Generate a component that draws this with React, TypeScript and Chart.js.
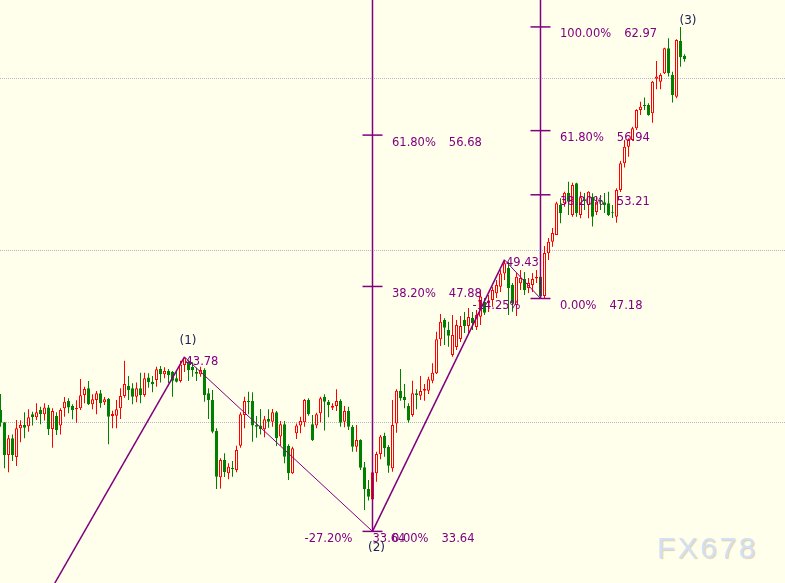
import React, { useEffect, useRef } from "react";
import { Chart, registerables } from "chart.js";

Chart.register(...registerables);

// ---- candle data (index 0..171) ----
const opens = [
  40.70, 39.98, 38.08, 39.05, 37.97, 39.63, 39.83, 39.75, 40.45, 40.27,
  40.70, 40.45, 40.85, 39.59, 40.35, 39.79, 40.80, 41.22, 40.93, 40.74,
  40.80, 41.57, 41.96, 41.03, 41.28, 41.67, 41.15, 41.34, 40.35, 40.37,
  40.80, 41.51, 42.09, 41.96, 41.47, 41.96, 41.57, 42.58, 42.34, 42.44,
  43.08, 42.77, 42.96, 42.92, 42.54, 42.38, 43.31, 43.47, 43.21, 42.92,
  42.77, 43.02, 41.67, 41.28, 39.48, 36.79, 37.79, 37.02, 37.34, 37.21,
  38.62, 40.41, 41.22, 41.22, 39.83, 39.79, 39.58, 40.17, 40.02, 40.56,
  39.15, 39.87, 38.62, 37.02, 39.34, 39.79, 39.98, 41.28, 39.87, 39.79,
  40.51, 41.47, 41.18, 40.83, 40.93, 41.22, 40.02, 40.64, 39.73, 38.56,
  38.95, 37.37, 36.10, 35.49, 37.02, 38.14, 39.19, 38.56, 37.31, 39.92,
  41.82, 41.47, 40.93, 40.41, 41.67, 41.53, 41.82, 41.82, 42.40, 42.83,
  44.81, 45.93, 45.35, 43.90, 44.36, 44.83, 45.93, 45.58, 46.05, 45.52,
  46.12, 46.99, 46.92, 47.09, 47.48, 47.87, 48.64, 48.95, 47.96, 46.80,
  48.06, 48.31, 47.79, 47.96, 48.35, 48.45, 47.33, 49.81, 50.48, 50.87,
  52.62, 52.72, 53.33, 52.03, 53.88, 52.03, 52.95, 52.62, 53.10, 52.21,
  52.91, 52.77, 52.72, 52.17, 51.94, 53.49, 55.04, 56.01, 56.40, 57.08,
  58.14, 58.43, 58.43, 57.95, 59.96, 59.78, 60.27, 61.73, 60.17, 58.91,
  62.15, 61.30,
];
const highs = [
  41.63, 40.00, 39.24, 39.28, 40.12, 40.10, 40.56, 40.74, 40.60, 41.09,
  40.89, 41.09, 40.99, 40.80, 40.56, 40.80, 41.45, 41.38, 41.03, 41.26,
  42.50, 42.05, 42.38, 41.61, 41.80, 41.86, 41.45, 41.40, 40.66, 41.28,
  41.96, 43.56, 42.67, 42.25, 42.29, 42.87, 42.87, 42.83, 42.67, 43.21,
  43.25, 43.18, 43.08, 42.96, 42.96, 43.56, 43.78, 43.56, 43.47, 43.16,
  43.21, 43.12, 41.96, 41.86, 39.63, 37.89, 38.18, 37.60, 37.73, 38.62,
  40.56, 41.47, 41.76, 41.73, 40.35, 40.76, 40.35, 40.74, 40.76, 40.64,
  40.06, 40.06, 38.70, 38.56, 39.92, 40.31, 41.34, 41.38, 40.41, 40.54,
  41.47, 41.61, 41.28, 41.09, 41.90, 41.32, 40.93, 40.89, 39.83, 39.83,
  38.99, 37.67, 36.63, 37.09, 38.27, 39.24, 39.38, 38.66, 41.28, 41.90,
  43.08, 42.21, 41.09, 42.40, 41.90, 42.67, 42.21, 42.63, 43.41, 45.25,
  46.28, 46.03, 45.83, 46.22, 45.93, 46.16, 46.40, 46.63, 46.40, 46.51,
  47.67, 47.21, 47.38, 47.87, 48.25, 48.84, 49.43, 49.32, 48.08, 48.66,
  48.84, 48.72, 48.37, 48.66, 48.84, 48.55, 50.23, 50.70, 51.28, 52.81,
  53.01, 53.39, 53.97, 53.91, 53.91, 53.39, 53.31, 53.42, 53.30, 53.14,
  53.20, 53.31, 53.39, 52.62, 53.59, 55.17, 56.40, 56.49, 57.17, 58.18,
  58.62, 58.86, 58.53, 59.82, 60.99, 60.27, 61.76, 62.31, 60.37, 62.25,
  62.97, 61.38,
];
const lows = [
  39.73, 37.31, 37.08, 37.73, 37.44, 38.82, 39.05, 39.44, 39.79, 40.12,
  39.87, 40.08, 39.24, 38.51, 39.24, 39.28, 40.31, 40.51, 40.16, 39.96,
  40.70, 41.09, 40.99, 40.74, 40.45, 40.83, 40.99, 38.70, 39.63, 39.63,
  40.17, 41.41, 41.28, 41.03, 41.15, 41.09, 41.47, 41.99, 41.73, 42.05,
  42.29, 42.54, 42.25, 41.47, 42.29, 42.29, 42.91, 42.38, 42.63, 42.38,
  42.63, 41.18, 40.17, 39.34, 36.10, 36.14, 36.80, 36.67, 36.82, 37.08,
  38.51, 39.63, 40.45, 38.85, 39.09, 39.28, 39.11, 39.67, 39.73, 38.61,
  38.62, 37.60, 36.63, 36.98, 39.01, 39.34, 39.73, 40.37, 38.90, 39.63,
  39.98, 39.50, 40.27, 40.70, 40.64, 39.73, 39.69, 39.54, 38.27, 38.27,
  37.21, 34.88, 35.43, 35.43, 36.53, 37.83, 37.98, 37.05, 37.11, 39.38,
  41.24, 40.80, 39.96, 40.31, 40.74, 41.28, 41.24, 41.63, 42.25, 42.79,
  44.42, 44.47, 44.38, 43.80, 44.19, 44.65, 45.17, 45.17, 45.35, 45.35,
  45.64, 46.22, 46.40, 46.70, 47.21, 47.56, 48.25, 46.22, 46.41, 46.16,
  47.67, 47.38, 47.50, 47.56, 48.08, 47.18, 47.18, 49.42, 50.19, 50.87,
  51.55, 52.52, 52.03, 51.94, 51.94, 51.84, 52.33, 51.84, 51.36, 52.03,
  52.33, 52.15, 51.98, 51.86, 51.59, 53.37, 54.79, 55.42, 56.35, 56.98,
  57.85, 58.14, 57.80, 57.40, 59.34, 59.34, 60.23, 60.08, 58.57, 58.82,
  60.66, 60.95,
];
const closes = [
  39.96, 38.08, 39.05, 38.08, 39.63, 39.83, 39.67, 40.27, 40.29, 40.56,
  40.47, 40.85, 39.58, 40.64, 39.54, 40.70, 41.18, 40.85, 40.70, 40.81,
  41.55, 41.92, 41.03, 41.32, 41.67, 41.09, 41.32, 40.31, 40.47, 40.74,
  41.51, 42.21, 41.86, 41.47, 41.96, 41.57, 42.54, 42.31, 42.19, 43.06,
  42.77, 42.96, 42.73, 42.40, 42.34, 43.35, 43.74, 43.02, 43.02, 42.81,
  43.02, 41.57, 41.28, 39.44, 36.82, 37.79, 37.09, 37.40, 37.25, 38.37,
  40.45, 41.22, 41.15, 39.79, 39.73, 39.58, 40.16, 40.02, 40.56, 39.05,
  39.87, 37.98, 37.02, 38.47, 39.79, 40.06, 41.28, 40.47, 38.95, 40.45,
  41.38, 41.18, 40.99, 40.95, 41.22, 39.96, 40.64, 39.73, 38.56, 38.95,
  37.34, 36.09, 35.66, 37.08, 38.14, 39.15, 38.47, 37.46, 39.83, 41.82,
  41.38, 41.28, 40.08, 41.67, 41.57, 41.80, 41.92, 42.48, 42.87, 44.81,
  45.83, 45.48, 45.02, 45.06, 45.64, 45.58, 45.58, 46.10, 45.76, 46.22,
  47.29, 46.35, 47.03, 47.67, 47.96, 48.64, 49.23, 47.79, 46.92, 48.45,
  48.37, 47.67, 48.08, 48.31, 48.45, 47.29, 49.83, 50.48, 50.99, 52.72,
  52.13, 53.33, 52.81, 53.78, 52.13, 53.06, 52.85, 53.39, 51.94, 52.81,
  52.81, 52.62, 52.03, 52.13, 53.49, 55.04, 56.01, 56.44, 57.08, 58.14,
  58.33, 58.37, 57.85, 59.78, 60.08, 60.17, 61.73, 60.27, 59.01, 62.21,
  61.20, 61.09,
];

// ---- wave lines (candle index, price) ----
const waveX = [13.5, 46, 93, 126, 135];
const waveY = [30.6, 43.78, 33.64, 49.43, 47.18];

// ---- Fibonacci tools ----
const leftFibIndex = 93;
const leftFibPrices = [33.64, 47.88, 56.68];
const leftFibPcts = ["0.00%", "38.20%", "61.80%"];
const rightFibIndex = 135;
const rightFibPrices = [47.18, 53.21, 56.94, 62.97];
const rightFibPcts = ["0.00%", "38.20%", "61.80%", "100.00%"];

// retracement notes
const retraceTexts = ["-27.20%", "-14.25%"];
const retraceIndex = [93, 135];
const retracePrices = [33.64, 47.18];
const retracePriceText = ["33.64", ""];

// point price notes
const pointTexts = ["43.78", "49.43"];
const pointIndex = [46, 126];
const pointPrices = [43.78, 49.43];

// wave labels
const waveLabels = ["(1)", "(2)", "(3)"];
const waveLabelIndex = [46, 93, 170];
const waveLabelPrices = [43.78, 33.64, 62.97];

// horizontal grid prices
const gridPrices = [40, 50, 60];

// ---- styles ----
const BG = "#FFFFEB";
const RED = "#FF0000";
const GREEN = "#008000";
const PURPLE = "#800080";
const NAVY = "#202058";
const FONT = "11.5px 'DejaVu Sans', Verdana, sans-serif";
const waveLabelOffsets = [
  [3.5, -16],
  [4, 16],
  [7.5, -6],
];
const pointTextOffsets = [
  [1, 5.5],
  [1.5, 3.5],
];

const X_MIN = -0.125;
const X_MAX = 196.125;
const Y_MAX = 64.5349;
const Y_MIN = 30.6395;

const annotPlugin = {
  id: "annot",
  beforeDraw(chart: any) {
    const { ctx, width, height } = chart;
    ctx.save();
    ctx.fillStyle = BG;
    ctx.fillRect(0, 0, width, height);
    ctx.restore();
  },
  beforeDatasetsDraw(chart: any) {
    const { ctx, chartArea } = chart;
    const y = chart.scales.y;
    ctx.save();
    ctx.strokeStyle = "#B4B4C8";
    ctx.lineWidth = 1;
    ctx.setLineDash([1, 1]);
    gridPrices.forEach((p) => {
      const py = Math.round(y.getPixelForValue(p)) + 0.5;
      ctx.beginPath();
      ctx.moveTo(chartArea.left, py);
      ctx.lineTo(chartArea.right, py);
      ctx.stroke();
    });
    ctx.restore();
  },
  afterDatasetsDraw(chart: any) {
    const { ctx, chartArea } = chart;
    const xs = chart.scales.x;
    const ys = chart.scales.y;
    ctx.save();

    const drawFib = (index: number, prices: number[], pcts: string[]) => {
      const lx = xs.getPixelForValue(index);
      const y0 = ys.getPixelForValue(prices[0]);
      ctx.strokeStyle = PURPLE;
      ctx.lineWidth = 1.5;
      ctx.setLineDash([]);
      ctx.beginPath();
      ctx.moveTo(lx, chartArea.top);
      ctx.lineTo(lx, y0);
      ctx.stroke();
      ctx.font = FONT;
      ctx.textBaseline = "middle";
      ctx.textAlign = "left";
      prices.forEach((p, k) => {
        const py = ys.getPixelForValue(p);
        ctx.beginPath();
        ctx.moveTo(lx - 10, py);
        ctx.lineTo(lx + 10, py);
        ctx.stroke();
        ctx.fillStyle = PURPLE;
        const tx = lx + 19.5;
        ctx.fillText(pcts[k], tx, py + 7.5);
        const w = ctx.measureText(pcts[k]).width;
        ctx.fillText(p.toFixed(2), tx + w + 13, py + 7.5);
      });
    };
    drawFib(leftFibIndex, leftFibPrices, leftFibPcts);
    drawFib(rightFibIndex, rightFibPrices, rightFibPcts);

    ctx.font = FONT;
    ctx.fillStyle = PURPLE;
    ctx.textBaseline = "middle";
    retraceTexts.forEach((t, k) => {
      const lx = xs.getPixelForValue(retraceIndex[k]);
      const py = ys.getPixelForValue(retracePrices[k]) + 8;
      ctx.textAlign = "right";
      ctx.fillText(t, lx - 20, py);
      if (retracePriceText[k]) {
        ctx.textAlign = "left";
        ctx.fillText(retracePriceText[k], lx, py);
      }
    });

    ctx.textAlign = "left";
    pointTexts.forEach((t, k) => {
      const px = xs.getPixelForValue(pointIndex[k]);
      const py = ys.getPixelForValue(pointPrices[k]);
      ctx.fillText(t, px + pointTextOffsets[k][0], py + pointTextOffsets[k][1]);
    });

    ctx.font = "12px 'DejaVu Sans', Verdana, sans-serif";
    ctx.fillStyle = NAVY;
    ctx.textAlign = "center";
    waveLabels.forEach((t, k) => {
      const px = xs.getPixelForValue(waveLabelIndex[k]);
      const py = ys.getPixelForValue(waveLabelPrices[k]);
      ctx.fillText(t, px + waveLabelOffsets[k][0], py + waveLabelOffsets[k][1]);
    });

    // watermark
    ctx.font = "30px 'Liberation Sans', Arial, sans-serif";
    (ctx as any).letterSpacing = "2.5px";
    ctx.textAlign = "left";
    ctx.textBaseline = "alphabetic";
    ctx.shadowColor = "rgba(200,170,120,0.55)";
    ctx.shadowOffsetX = 1;
    ctx.shadowOffsetY = 1;
    ctx.shadowBlur = 1;
    ctx.fillStyle = "#D2E0F4";
    ctx.fillText("FX678", 657, 558);
    ctx.restore();
  },
};

export default function App() {
  const ref = useRef<HTMLCanvasElement | null>(null);

  useEffect(() => {
    if (!ref.current) return;
    const idx = opens.map((_, i) => i);
    const isUp = idx.map((i) => closes[i] >= opens[i]);
    const bodies = idx.map((i) => ({ x: i, y: [opens[i], closes[i]] }));
    const wicks = idx.map((i) => ({ x: i, y: [lows[i], highs[i]] }));
    const seg = (a: number, b: number) => [
      { x: waveX[a], y: waveY[a] },
      { x: waveX[b], y: waveY[b] },
    ];
    const lineDs = (data: any[], w: number) => ({
      type: "line",
      data,
      borderColor: PURPLE,
      borderWidth: w,
      pointRadius: 0,
      fill: false,
      tension: 0,
      order: 0,
    });

    const chart = new Chart(ref.current, {
      type: "bar",
      data: {
        datasets: [
          lineDs(seg(0, 1), 1.5),
          lineDs(seg(1, 2), 1),
          lineDs(seg(2, 3), 1.5),
          lineDs(seg(3, 4), 1),
          {
            type: "bar",
            label: "body",
            data: bodies,
            barThickness: 3,
            grouped: false,
            borderSkipped: false,
            borderWidth: 1,
            inflateAmount: 0,
            minBarLength: 1,
            backgroundColor: (c: any) => (isUp[c.dataIndex] ? BG : GREEN),
            borderColor: (c: any) => (isUp[c.dataIndex] ? RED : GREEN),
            order: 1,
          },
          {
            type: "bar",
            label: "wick",
            data: wicks,
            barThickness: 1,
            grouped: false,
            borderWidth: 0,
            inflateAmount: 0,
            backgroundColor: (c: any) => (isUp[c.dataIndex] ? RED : GREEN),
            order: 2,
          },
        ] as any,
      },
      options: {
        animation: false,
        responsive: false,
        devicePixelRatio: 1,
        events: [],
        layout: { padding: 0 },
        plugins: { legend: { display: false }, tooltip: { enabled: false } },
        scales: {
          x: { type: "linear", min: X_MIN, max: X_MAX, display: false, offset: false },
          y: { type: "linear", min: Y_MIN, max: Y_MAX, display: false },
        },
      } as any,
      plugins: [annotPlugin],
    });
    return () => chart.destroy();
  }, []);

  return (
    <div style={{ position: "fixed", left: 0, top: 0, width: 785, height: 583, background: BG }}>
      <canvas ref={ref} width={785} height={583} style={{ display: "block" }} />
    </div>
  );
}
